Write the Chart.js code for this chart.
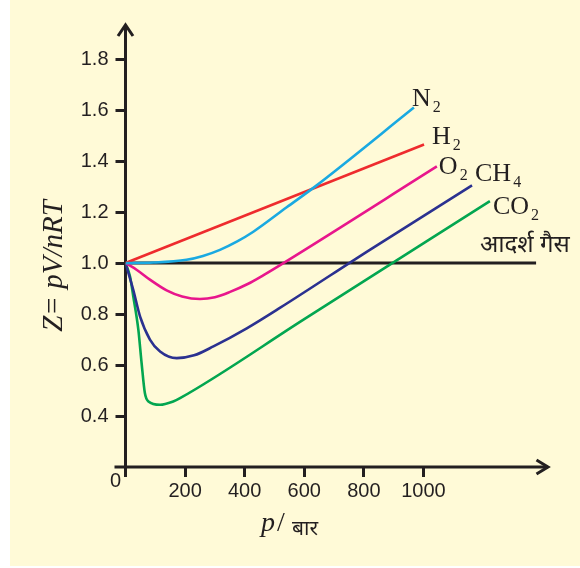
<!DOCTYPE html>
<html><head><meta charset="utf-8">
<script src="https://cdn.jsdelivr.net/npm/chart.js@4.4.0/dist/chart.umd.min.js"></script>
<style>html,body{margin:0;padding:0;background:#fff;}#wrap{width:580px;height:568px;}</style>
</head><body><div id="wrap"><canvas id="c" width="580" height="568"></canvas></div>
<script>
// ---- data (p in bar, Z = pV/nRT) ----
const xTicks = [200, 400, 600, 800, 1000];
const yTicks = [0.4, 0.6, 0.8, 1.0, 1.2, 1.4, 1.6, 1.8];

const pN2 = [0, 93, 205, 260, 317, 375, 429, 541, 636, 968];
const zN2 = [1.0, 1.002, 1.013, 1.028, 1.052, 1.085, 1.123, 1.219, 1.30, 1.61];

const pH2 = [0, 1002];
const zH2 = [1.0, 1.465];

const pO2 = [0, 37, 82, 138, 190, 250, 300, 351, 410, 462, 530, 1045];
const zO2 = [1.0, 0.974, 0.935, 0.893, 0.869, 0.859, 0.866, 0.887, 0.918, 0.952, 1.0, 1.379];

const pCH4 = [0, 26, 49, 82, 116, 172, 230, 295, 407, 518, 820, 1163];
const zCH4 = [1.0, 0.895, 0.79, 0.70, 0.653, 0.627, 0.638, 0.673, 0.744, 0.824, 1.052, 1.305];

const pCO2 = [0, 15, 26, 43, 54, 65, 77, 116, 160, 183, 600, 1223];
const zCO2 = [1.0, 0.948, 0.87, 0.74, 0.608, 0.49, 0.457, 0.444, 0.457, 0.47, 0.78, 1.243];

const pIdeal = [0, 1378];
const zIdeal = [1.0, 1.0];

const seriesNames = ['N', 'H', 'O', 'CH', 'CO', 'आदर्श गैस'];
const seriesSubs  = ['2', '2', '2', '4', '2', ''];
const seriesColors = ['#1AA9E1', '#EE2B2E', '#E8168C', '#2B3190', '#03A650', '#231F20'];

const toPts = (ps, zs) => ps.map((p, i) => ({x: p, y: zs[i]}));
const allP = [pN2, pH2, pO2, pCH4, pCO2, pIdeal];
const allZ = [zN2, zH2, zO2, zCH4, zCO2, zIdeal];

const TXT = '#231F20';
const SERIF = '"Liberation Serif", "DejaVu Serif", serif';
const SANS = '"Liberation Sans", Arial, sans-serif';
const DEVA = '"Noto Sans Devanagari", "Lohit Devanagari", "Mangal", "Noto Sans", sans-serif';

// label offsets relative to each series' last point (dx, dy of baseline)
const labelOff = [[-2, -2], [8, -1], [2, 8], [3, -4], [3, 13], [-56, -11]];

const decor = {
  id: 'decor',
  beforeDraw(chart) {
    const ctx = chart.ctx;
    ctx.save();
    ctx.fillStyle = '#FFFAD7';
    ctx.fillRect(10, 0, 570, 566);
    ctx.restore();
  },
  beforeDatasetsDraw(chart) {
    const ctx = chart.ctx, xs = chart.scales.x, ys = chart.scales.y;
    const x0 = xs.getPixelForValue(0), yb = ys.getPixelForValue(0.2);
    const xr = chart.chartArea.right, yt = chart.chartArea.top;
    ctx.save();
    ctx.strokeStyle = TXT; ctx.lineWidth = 3; ctx.lineCap = 'butt'; ctx.lineJoin = 'miter';
    ctx.beginPath();
    ctx.moveTo(x0 - 11, yb); ctx.lineTo(xr, yb);
    ctx.moveTo(x0, yb + 10); ctx.lineTo(x0, yt);
    ctx.stroke();
    ctx.beginPath();
    ctx.moveTo(x0 - 7.5, yt + 11); ctx.lineTo(x0, yt); ctx.lineTo(x0 + 7.5, yt + 11);
    ctx.moveTo(xr - 11.5, yb - 7); ctx.lineTo(xr, yb); ctx.lineTo(xr - 11.5, yb + 7);
    ctx.stroke();
    ctx.restore();
  },
  afterDatasetsDraw(chart) {
    const ctx = chart.ctx;
    ctx.save();
    ctx.fillStyle = TXT;
    ctx.textBaseline = 'alphabetic';
    ctx.textAlign = 'left';
    // series labels
    chart.data.datasets.forEach((ds, i) => {
      const meta = chart.getDatasetMeta(i);
      const last = meta.data[meta.data.length - 1];
      const x = last.x + labelOff[i][0], y = last.y + labelOff[i][1];
      if (seriesSubs[i]) {
        ctx.font = '26px ' + SERIF;
        ctx.fillText(seriesNames[i], x, y);
        const w = ctx.measureText(seriesNames[i]).width;
        ctx.font = '16px ' + SERIF;
        ctx.fillText(seriesSubs[i], x + w + 2, y + 6);
      } else {
        ctx.font = '24px ' + DEVA;
        ctx.fillText(seriesNames[i], x, y);
      }
    });
    // origin label
    ctx.font = '20px ' + SANS;
    ctx.fillText('0', 110, 487);
    // x title
    ctx.font = 'italic 28px ' + SERIF;
    ctx.fillText('p', 261, 531);
    ctx.font = '28px ' + SERIF;
    ctx.fillText('/', 277, 531);
    ctx.font = '21px ' + DEVA;
    ctx.fillText('बार', 292, 535);
    // y title
    ctx.translate(62, 266);
    ctx.rotate(-Math.PI / 2);
    ctx.textAlign = 'center';
    ctx.font = 'italic 29px ' + SERIF;
    ctx.fillText('Z= pV/nRT', 0, 0);
    ctx.restore();
  }
};

new Chart(document.getElementById('c'), {
  type: 'line',
  data: {
    datasets: allP.map((ps, i) => ({
      label: seriesNames[i] + seriesSubs[i],
      data: toPts(ps, allZ[i]),
      borderColor: seriesColors[i],
      borderWidth: i === 5 ? 3 : 2.6,
      pointRadius: 0,
      fill: false,
      cubicInterpolationMode: 'monotone'
    }))
  },
  options: {
    responsive: false,
    animation: false,
    devicePixelRatio: 1,
    layout: {padding: {left: 0, top: 25, right: 32, bottom: 0}},
    plugins: {legend: {display: false}, tooltip: {enabled: false}},
    scales: {
      x: {
        type: 'linear', min: 0, max: 1418,
        afterBuildTicks: s => { s.ticks = xTicks.map(v => ({value: v})); },
        afterFit: s => { s.height = 101; },
        ticks: {font: {family: SANS, size: 20}, color: TXT, padding: 2, maxRotation: 0, autoSkip: false, callback: v => String(v)},
        grid: {display: true, drawOnChartArea: false, drawTicks: true, tickLength: 10, color: TXT, lineWidth: 3},
        border: {display: false}
      },
      y: {
        type: 'linear', min: 0.2, max: 1.934,
        afterBuildTicks: s => { s.ticks = yTicks.map(v => ({value: v})); },
        afterFit: s => { s.width = 125.5; },
        ticks: {font: {family: SANS, size: 20}, color: TXT, padding: 7, callback: v => v.toFixed(1)},
        grid: {display: true, drawOnChartArea: false, drawTicks: true, tickLength: 10, color: TXT, lineWidth: 3},
        border: {display: false}
      }
    }
  },
  plugins: [decor]
});
</script>
</body></html>
